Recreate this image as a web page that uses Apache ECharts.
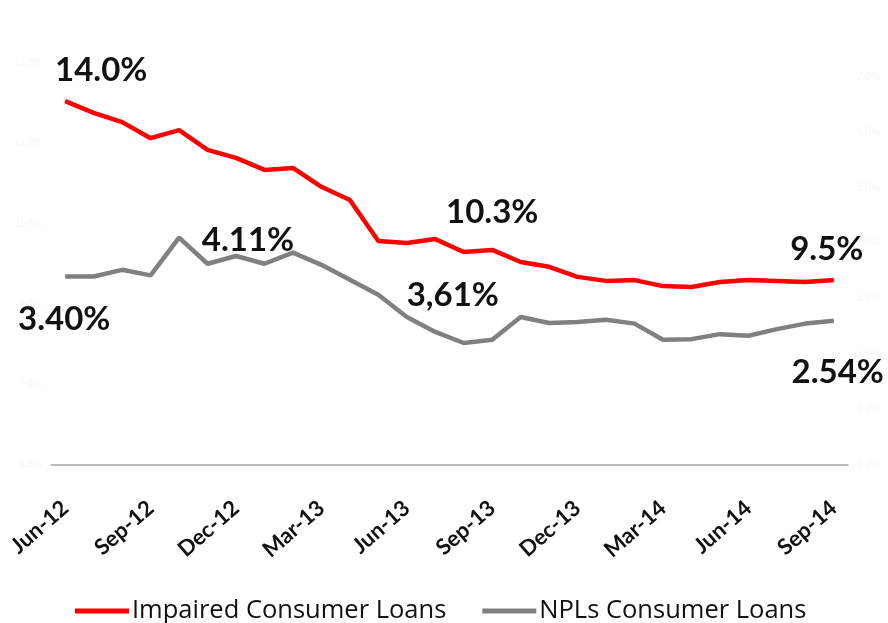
<!DOCTYPE html>
<html>
<head>
<meta charset="utf-8">
<script src="https://cdn.jsdelivr.net/npm/echarts@6/dist/echarts.min.js"></script>
<style>
html,body{margin:0;padding:0;background:#fff;}
#chart{width:888px;height:623px;}
</style>
</head>
<body>
<div id="chart"></div>
<script>
const categories = ['Jun-12','Jul-12','Aug-12','Sep-12','Oct-12','Nov-12','Dec-12','Jan-13','Feb-13','Mar-13','Apr-13','May-13',
  'Jun-13','Jul-13','Aug-13','Sep-13','Oct-13','Nov-13','Dec-13','Jan-14','Feb-14','Mar-14','Apr-14','May-14',
  'Jun-14','Jul-14','Aug-14','Sep-14'];
const impairedLoans = [14.05,13.76,13.53,13.13,13.33,12.84,12.64,12.34,12.39,11.92,11.59,10.57,
  10.52,10.62,10.30,10.35,10.05,9.93,9.68,9.58,9.60,9.45,9.43,9.55,9.60,9.58,9.55,9.60];
const nplLoans = [3.40,3.40,3.52,3.42,4.10,3.63,3.77,3.63,3.83,3.61,3.34,3.07,
  2.67,2.40,2.20,2.26,2.67,2.56,2.58,2.62,2.55,2.26,2.27,2.36,2.33,2.45,2.55,2.60];
const seriesNames = ['Impaired Consumer Loans','NPLs Consumer Loans'];
// annotation texts: [series index, data index, text]
const annotations = [
  [0, 0, '14.0%'],
  [0, 15, '10.3%'],
  [0, 27, '9.5%'],
  [1, 6, '4.11%'],
  [1, 14, '3,61%'],
  [1, 0, '3.40%'],
  [1, 27, '2.54%']
];
const annotationOffsets = [[36,-31],[0,-38],[-7,-31],[12,-16],[-11,-48],[-1,43],[4,52]];

const labelFont = {fontFamily:'Lato', fontWeight:'bold', fontSize:33, color:'#111'};

function buildData(values, sIdx){
  return values.map((v,i)=>{
    const aIdx = annotations.findIndex(a=>a[0]===sIdx && a[1]===i);
    if(aIdx<0) return v;
    return {value:v, label:Object.assign({show:true, position:'inside', offset:annotationOffsets[aIdx],
      formatter:annotations[aIdx][2]}, labelFont)};
  });
}

const faint = '#f6f6f6';
const chart = echarts.init(document.getElementById('chart'));
chart.setOption({
  animation:false,
  backgroundColor:'#fff',
  grid:{left:51, right:40, top:63, bottom:158, containLabel:false},
  legend:{
    left:70, top:593, itemWidth:54, itemHeight:5, itemGap:36, icon:'rect',
    textStyle:{fontFamily:'Open Sans', fontSize:25.5, color:'#111', padding:[0,0,0,-2]},
    data:seriesNames
  },
  xAxis:{
    type:'category', data:categories, boundaryGap:true,
    axisLine:{lineStyle:{color:'#a6a6a6', width:1.5}},
    axisTick:{interval:2, length:8, lineStyle:{color:'#a6a6a6', width:1.5}},
    axisLabel:{interval:2, rotate:41, fontFamily:'Lato', fontWeight:'bold', fontSize:22, color:'#111', margin:40}
  },
  yAxis:[
    {type:'value', min:5, max:15, interval:2, position:'left',
     axisLine:{show:false}, axisTick:{show:false}, splitLine:{show:false},
     axisLabel:{color:faint, fontSize:10, margin:9, formatter:v=>v.toFixed(1)+'%'}},
    {type:'value', min:0, max:7.25, interval:1, position:'right',
     axisLine:{show:false}, axisTick:{show:false}, splitLine:{show:false},
     axisLabel:{color:faint, fontSize:10, margin:9, formatter:v=>Number.isInteger(v)?v.toFixed(1)+'%':''}}
  ],
  series:[
    {name:seriesNames[0], type:'line', yAxisIndex:0, data:buildData(impairedLoans,0),
     symbol:'circle', symbolSize:1, showSymbol:true,
     lineStyle:{color:'#ff0000', width:4.5}, itemStyle:{color:'#ff0000'}},
    {name:seriesNames[1], type:'line', yAxisIndex:1, data:buildData(nplLoans,1),
     symbol:'circle', symbolSize:1, showSymbol:true,
     lineStyle:{color:'#808080', width:4.5}, itemStyle:{color:'#808080'}}
  ]
});
</script>
</body>
</html>
